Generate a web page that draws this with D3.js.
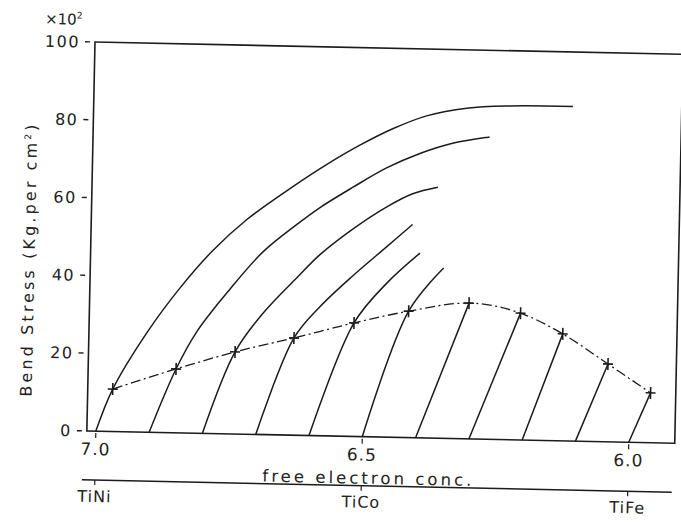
<!DOCTYPE html>
<html>
<head>
<meta charset="utf-8">
<script src="https://cdn.jsdelivr.net/npm/d3@7"></script>
<style>
body { margin: 0; background: #fff; }
text { font-family: "DejaVu Sans", sans-serif; fill: #222; }
</style>
</head>
<body>
<div id="chart"></div>
<script>
// values
var xTicks = [7.0, 6.5, 6.0];
var yTicks = [0, 20, 40, 60, 80, 100];
var alloyLabels = ["TiNi", "TiCo", "TiFe"];

// foot of every line (stress 0)
var startX = [7.0, 6.9, 6.8, 6.7, 6.6, 6.5, 6.4, 6.3, 6.2, 6.1, 6.0];
// crosses on the dash-dot curve
var markerX = [6.970, 6.852, 6.742, 6.632, 6.520, 6.418, 6.305, 6.208, 6.128, 6.042, 5.961];
var markerY = [10.9, 16.4, 21.1, 25.0, 29.2, 32.5, 34.9, 32.6, 27.5, 20.0, 12.8];

// upper parts of the first six lines (after the cross)
var upper1 = [[6.908, 25.6], [6.848, 37.2], [6.788, 47.0], [6.725, 55.2], [6.640, 63.9], [6.577, 69.8],
    [6.516, 74.9], [6.455, 79.3], [6.392, 82.8], [6.317, 85.0], [6.236, 85.8], [6.118, 86.0]];
var upper2 = [[6.815, 26.0], [6.754, 37.2], [6.694, 46.9], [6.631, 54.2], [6.589, 58.6], [6.528, 64.0],
    [6.465, 69.2], [6.403, 73.1], [6.342, 75.9], [6.273, 77.7]];
var upper3 = [[6.691, 31.2], [6.629, 40.5], [6.587, 46.5], [6.526, 53.3], [6.463, 59.2], [6.415, 62.7], [6.368, 64.5]];
var upper4 = [[6.585, 33.1], [6.524, 41.3], [6.462, 48.9], [6.414, 54.8]];
var upper5 = [[6.460, 39.6], [6.399, 47.5]];
var upper6 = [[6.354, 43.8]];
var uppers = [upper1, upper2, upper3, upper4, upper5, upper6];

var W = 588, H = 389;

var svg = d3.select("#chart").append("svg")
    .attr("width", 681)
    .attr("height", 522);

// the scan is slightly turned, so the whole plot is too
var g = svg.append("g")
    .attr("transform", "translate(95,42) rotate(1.2)");

var x = d3.scaleLinear().domain([7.0, 6.0]).range([9, 542]);
var y = d3.scaleLinear().domain([0, 100]).range([H, 0]);

var ink = "#1c1c1c";

// frame
g.append("rect")
    .attr("x", 0).attr("y", 0)
    .attr("width", W).attr("height", H)
    .style("fill", "none")
    .style("stroke", ink)
    .style("stroke-width", 1.6);

// y ticks
var yt = g.selectAll(".ytick").data(yTicks).enter().append("g")
    .attr("class", "ytick")
    .attr("transform", function (d) { return "translate(0," + y(d) + ")"; });
yt.append("line")
    .attr("x1", -10).attr("x2", -5)
    .style("stroke", ink).style("stroke-width", 1.4);
yt.append("text")
    .attr("x", -15)
    .attr("dy", "0.36em")
    .attr("text-anchor", "end")
    .style("font-size", "16px")
    .style("letter-spacing", "1.5px")
    .text(function (d) { return d; });

g.append("text")
    .attr("x", -13).attr("y", -17)
    .attr("text-anchor", "end")
    .style("font-size", "15px")
    .html("\u00d710<tspan dy='-6' style='font-size:9px'>2</tspan>");

// y title
g.append("text")
    .attr("transform", "translate(-56,220) rotate(-90)")
    .attr("text-anchor", "middle")
    .attr("textLength", 272)
    .attr("lengthAdjust", "spacing")
    .style("font-size", "16px")
    .html("Bend Stress (Kg.per cm<tspan dy='-6' style='font-size:9px'>2</tspan><tspan dy='6'>)</tspan>");

// x ticks
var xt = g.selectAll(".xtick").data(xTicks).enter().append("g")
    .attr("class", "xtick")
    .attr("transform", function (d) { return "translate(" + x(d) + ",0)"; });
xt.append("line")
    .attr("y1", H + 2).attr("y2", H + 7)
    .style("stroke", ink).style("stroke-width", 1.2);
xt.append("text")
    .attr("y", H + 24)
    .attr("text-anchor", "middle")
    .style("font-size", "17px")
    .style("letter-spacing", "1px")
    .text(function (d) { return d.toFixed(1); });

g.append("text")
    .attr("x", 281).attr("y", H + 47)
    .attr("text-anchor", "middle")
    .attr("textLength", 209)
    .attr("lengthAdjust", "spacing")
    .style("font-size", "16.5px")
    .text("free electron conc.");

// second scale with the alloys
var lineY = H + 49;
g.append("line")
    .attr("x1", -4).attr("x2", 586)
    .attr("y1", lineY).attr("y2", lineY)
    .style("stroke", ink).style("stroke-width", 1.5);
var at = g.selectAll(".atick").data(alloyLabels).enter().append("g")
    .attr("class", "atick")
    .attr("transform", function (d, i) { return "translate(" + x(xTicks[i]) + ",0)"; });
at.append("line")
    .attr("y1", lineY).attr("y2", lineY + 5)
    .style("stroke", ink).style("stroke-width", 1.2);
at.append("text")
    .attr("y", lineY + 22)
    .attr("text-anchor", "middle")
    .style("font-size", "16px")
    .style("letter-spacing", "1px")
    .text(function (d) { return d; });

// the solid lines
var solid = d3.line()
    .x(function (d) { return x(d[0]); })
    .y(function (d) { return y(d[1]); })
    .curve(d3.curveCatmullRom.alpha(0.5));

var lines = startX.map(function (sx, i) {
    var pts = [[sx, 0], [markerX[i], markerY[i]]];
    if (uppers[i]) pts = pts.concat(uppers[i]);
    return pts;
});

g.selectAll(".stress").data(lines).enter().append("path")
    .attr("class", "stress")
    .attr("d", solid)
    .style("fill", "none")
    .style("stroke", ink)
    .style("stroke-width", 1.5);

// dash-dot curve through the crosses
var markers = markerX.map(function (mx, i) { return [mx, markerY[i]]; });
g.append("path")
    .datum(markers)
    .attr("d", d3.line()
        .x(function (d) { return x(d[0]); })
        .y(function (d) { return y(d[1]); })
        .curve(d3.curveMonotoneX))
    .style("fill", "none")
    .style("stroke", ink)
    .style("stroke-width", 1.3)
    .style("stroke-dasharray", "10,3.5,2,3.5");

g.selectAll(".cross").data(markers).enter().append("path")
    .attr("class", "cross")
    .attr("transform", function (d) { return "translate(" + x(d[0]) + "," + y(d[1]) + ")"; })
    .attr("d", "M-5,0H5M0,-6V6")
    .style("fill", "none")
    .style("stroke", ink)
    .style("stroke-width", 1.6);
</script>
</body>
</html>
